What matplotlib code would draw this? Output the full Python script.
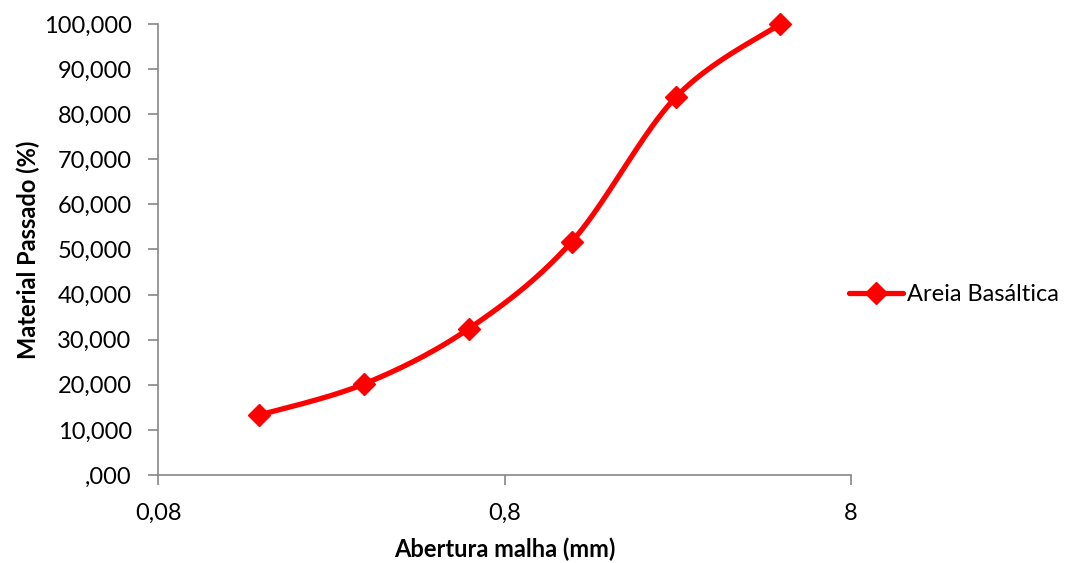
import numpy as np
import matplotlib
matplotlib.use('Agg')
import matplotlib.pyplot as plt
from matplotlib.ticker import FuncFormatter, FixedLocator, NullLocator

# Sieve openings (mm) and passing material (%)
abertura = [0.157, 0.315, 0.63, 1.25, 2.5, 5.0]
passado = [13.3, 20.2, 32.4, 51.7, 83.8, 100.0]
serie = 'Areia Basáltica'

plt.rcParams['font.family'] = ['Lato', 'DejaVu Sans']

red = '#ff0000'
gray = '#868686'


def smooth_curve(xs, ys, n=40):
    # Catmull-Rom style smoothing like Excel's "smoothed line", done in log-x space
    lx = np.log10(xs)
    pts = np.column_stack([lx, ys])
    pts = np.vstack([pts[0], pts, pts[-1]])
    out = []
    t = np.linspace(0, 1, n)
    for i in range(1, len(pts) - 2):
        p0, p1, p2, p3 = pts[i - 1], pts[i], pts[i + 1], pts[i + 2]
        c1 = p1 + (p2 - p0) / 6
        c2 = p2 - (p3 - p1) / 6
        seg = ((1 - t) ** 3)[:, None] * p1 + (3 * (1 - t) ** 2 * t)[:, None] * c1 \
            + (3 * (1 - t) * t ** 2)[:, None] * c2 + (t ** 3)[:, None] * p2
        out.append(seg)
    seg = np.vstack(out)
    return 10 ** seg[:, 0], seg[:, 1]


fig = plt.figure(figsize=(10.7, 5.63), dpi=100)
ax = fig.add_axes([0.1477, 0.1563, 0.6476, 0.8011])

sx, sy = smooth_curve(abertura, passado)
ax.plot(sx, sy, color=red, lw=3.8, solid_capstyle='round', zorder=3, clip_on=False)
ax.plot(abertura, passado, linestyle='none', marker='D', color=red, markersize=11.5,
        zorder=4, clip_on=False)
# legend proxy
ax.plot([], [], color=red, lw=3.8, marker='D', markersize=11.5, label=serie, solid_capstyle='round')

ax.set_xscale('log')
ax.set_xlim(0.08, 8)
ax.set_ylim(0, 100)
ax.xaxis.set_major_locator(FixedLocator([0.08, 0.8, 8]))
ax.xaxis.set_minor_locator(NullLocator())
ax.xaxis.set_major_formatter(FuncFormatter(lambda v, p: ('%g' % v).replace('.', ',')))
ax.set_yticks(np.arange(0, 101, 10))


def yfmt(v, p):
    s = '{:.3f}'.format(v).replace('.', ',')
    if s.startswith('0,'):
        s = s[1:]
    return s


ax.yaxis.set_major_formatter(FuncFormatter(yfmt))

for side in ['top', 'right']:
    ax.spines[side].set_visible(False)
for side in ['left', 'bottom']:
    ax.spines[side].set_color(gray)
    ax.spines[side].set_linewidth(1.2)
ax.tick_params(axis='both', colors=gray, labelcolor='black', labelsize=17,
               length=7, width=1.2, direction='out')
ax.tick_params(axis='x', pad=13)
ax.tick_params(axis='y', pad=12)

ax.set_xlabel('Abertura malha (mm)', fontsize=17, fontweight='bold', labelpad=10)
ax.set_ylabel('Material Passado (%)', fontsize=17, fontweight='bold', labelpad=3)

leg = ax.legend(loc='center left', bbox_to_anchor=(0.966, 0.40), frameon=False,
                fontsize=17, handlelength=2.3, handletextpad=0.15)

fig.savefig('out.png', dpi=100)
